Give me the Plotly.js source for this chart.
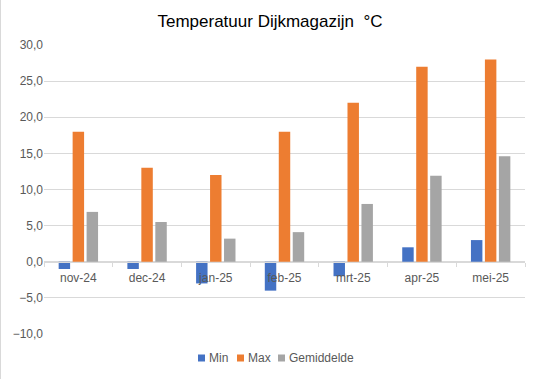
<!DOCTYPE html>
<html>
<head>
<meta charset="utf-8">
<script src="https://cdn.plot.ly/plotly-3.0.1.min.js"></script>
<style>html,body{margin:0;padding:0;background:#fff;}#chart{width:540px;height:379px;}</style>
</head>
<body>
<div id="chart"></div>
<script>
const categories = ["nov-24", "dec-24", "jan-25", "feb-25", "mrt-25", "apr-25", "mei-25"];
const minValues = [-1, -1, -3, -4, -2, 2, 3];
const maxValues = [18, 13, 12, 18, 22, 27, 28];
const avgValues = [6.9, 5.5, 3.2, 4.1, 8.0, 11.9, 14.6];
const seriesNames = ["Min", "Max", "Gemiddelde"];
const seriesColors = ["#4472C4", "#ED7D31", "#A5A5A5"];

const font = "'Liberation Sans', Arial, sans-serif";
const seriesValues = [minValues, maxValues, avgValues];
const traces = seriesValues.map((v, i) => ({
  type: "bar", name: seriesNames[i], x: categories, y: v, marker: {color: seriesColors[i]}
}));

// custom compact legend (Excel style)
const legendX = [198, 237, 278]; // pixel x of square
const legendY = 358;
const W = 540, H = 379;
const shapes = [{type: "line", xref: "paper", yref: "paper", x0: -44/481, x1: -44/481, y0: -45/289, y1: 1 + 45/289,
            line: {color: "#d9d9d9", width: 2}}];
const annotations = [];
const pxToPaperX = px => (px - 44) / 481;
const pxToPaperY = py => (334 - py) / 289;
seriesNames.forEach((n, i) => {
  shapes.push({type: "rect", xref: "paper", yref: "paper",
    x0: pxToPaperX(legendX[i]), x1: pxToPaperX(legendX[i] + 7),
    y0: pxToPaperY(legendY + 3.5), y1: pxToPaperY(legendY - 3.5),
    fillcolor: seriesColors[i], line: {width: 0}});
  annotations.push({xref: "paper", yref: "paper", x: pxToPaperX(legendX[i] + 9), y: pxToPaperY(legendY),
    xanchor: "left", yanchor: "middle", showarrow: false, text: n,
    font: {family: font, size: 12, color: "#595959"}});
});

const layout = {
  width: W, height: H,
  margin: {l: 44, r: 15, t: 45, b: 45},
  paper_bgcolor: "#fff", plot_bgcolor: "#fff",
  separators: ",.",
  title: {text: "Temperatuur Dijkmagazijn&nbsp; °C", x: 0.5, xanchor: "center", y: 0.945, yanchor: "middle",
          font: {family: font, size: 17, color: "#000"}},
  barmode: "group", bargap: 0.39, bargroupgap: 0.18,
  showlegend: false,
  xaxis: {anchor: "free", position: 0.25, showline: true, linecolor: "#d9d9d9", linewidth: 1,
          ticks: "outside", tickson: "boundaries", ticklen: 4, tickcolor: "#d9d9d9", ticklabelstandoff: 5,
          showgrid: false, tickfont: {family: font, size: 12, color: "#595959"}, fixedrange: true},
  yaxis: {range: [-10, 30], dtick: 5, tick0: 0, tickformat: ".1f", showgrid: true, gridcolor: "#d9d9d9",
          zeroline: false, showline: false, ticks: "", ticklen: 0, automargin: false,
          tickfont: {family: font, size: 12, color: "#595959"}},
  shapes: shapes,
  annotations: annotations
};
Plotly.newPlot("chart", traces, layout, {displayModeBar: false, staticPlot: true});
</script>
</body>
</html>
